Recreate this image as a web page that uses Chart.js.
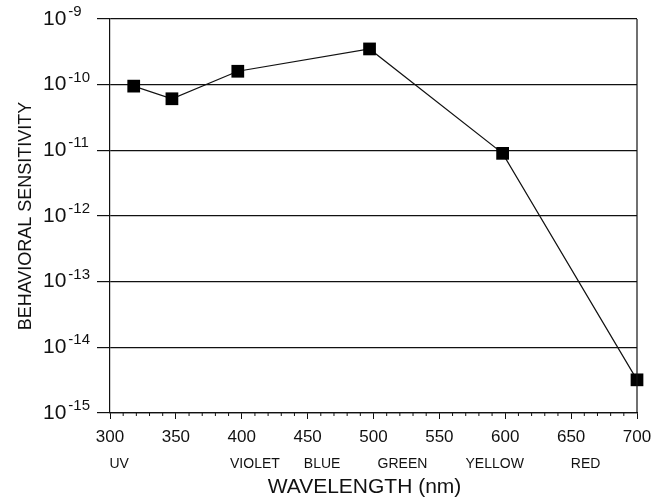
<!DOCTYPE html>
<html>
<head>
<meta charset="utf-8">
<script src="https://cdn.jsdelivr.net/npm/chart.js@4.4.0/dist/chart.umd.min.js"></script>
<style>
  html, body { margin: 0; padding: 0; background: #fff; }
</style>
</head>
<body>
<canvas id="myChart" width="670" height="500"></canvas>
<script>
// data
const wavelengths = [318, 347, 397, 497, 598, 700];
const sensitivity = [9.5e-11, 6.1e-11, 1.6e-10, 3.5e-10, 9e-12, 3.2e-15];
const decadeExponents = [-15, -14, -13, -12, -11, -10, -9];
const bandNames = ['UV', 'VIOLET', 'BLUE', 'GREEN', 'YELLOW', 'RED'];
const bandCenters = [307, 410, 461, 522, 592, 661];

const FONT = "'Liberation Sans', Arial, Helvetica, sans-serif";
const INK = '#111';

const extras = {
  id: 'extras',
  afterDraw(chart) {
    const { ctx, chartArea: area, scales: { x, y } } = chart;
    ctx.save();
    ctx.strokeStyle = INK;
    ctx.lineWidth = 1.2;

    // right frame
    ctx.beginPath();
    ctx.moveTo(area.right, area.top);
    ctx.lineTo(area.right, area.bottom);
    ctx.stroke();

    // minor ticks on x
    ctx.lineWidth = 1;
    for (let v = 310; v < 700; v += 10) {
      if (v % 50 === 0) continue;
      const px = x.getPixelForValue(v);
      ctx.beginPath();
      ctx.moveTo(px, area.bottom);
      ctx.lineTo(px, area.bottom + 3);
      ctx.stroke();
    }

    // y labels as 10 with raised exponent
    ctx.fillStyle = INK;
    ctx.textAlign = 'left';
    ctx.textBaseline = 'middle';
    decadeExponents.forEach(e => {
      const py = y.getPixelForValue(Math.pow(10, e));
      ctx.font = '21px ' + FONT;
      ctx.fillText('10', 43, py);
      const w = ctx.measureText('10').width;
      ctx.font = '15px ' + FONT;
      ctx.fillText('-' + Math.abs(e), 43 + w + 2, py - 7);
    });

    // colour band names under the wavelengths
    ctx.font = '14px ' + FONT;
    ctx.textAlign = 'center';
    bandNames.forEach((name, i) => {
      ctx.fillText(name, x.getPixelForValue(bandCenters[i]), 464);
    });

    // x title
    ctx.font = '21px ' + FONT;
    ctx.fillText('WAVELENGTH (nm)', (area.left + area.right) / 2 - 9, 487);
    ctx.restore();
  }
};

new Chart(document.getElementById('myChart'), {
  type: 'line',
  data: {
    datasets: [{
      data: wavelengths.map((w, i) => ({ x: w, y: sensitivity[i] })),
      borderColor: INK,
      borderWidth: 1.2,
      pointStyle: 'rect',
      pointRadius: 9,
      pointBackgroundColor: '#000',
      pointBorderColor: '#000',
      pointBorderWidth: 0,
      tension: 0,
      clip: false
    }]
  },
  options: {
    responsive: false,
    animation: false,
    layout: { padding: { left: 0, top: 19, right: 33, bottom: 0 } },
    plugins: { legend: { display: false }, tooltip: { enabled: false } },
    scales: {
      x: {
        type: 'linear',
        min: 300,
        max: 700,
        afterFit: s => { s.height = 87; },
        ticks: {
          stepSize: 10,
          autoSkip: false,
          maxRotation: 0,
          padding: 8,
          color: INK,
          font: { family: FONT, size: 17 },
          callback: v => (v % 50 === 0 ? v : '')
        },
        grid: {
          drawOnChartArea: false,
          tickLength: 6,
          color: c => (c.tick && c.tick.value % 50 === 0 ? INK : 'rgba(0,0,0,0)')
        },
        border: { display: true, color: INK, width: 1.2 }
      },
      y: {
        type: 'logarithmic',
        min: 1e-15,
        max: 1e-9,
        afterFit: s => { s.width = 110; },
        afterBuildTicks: s => {
          s.ticks = decadeExponents.map(e => ({ value: Math.pow(10, e) }));
        },
        ticks: { display: false },
        grid: { color: INK, lineWidth: 1.2, tickLength: 13 },
        border: { display: true, color: INK, width: 1.2 },
        title: {
          display: true,
          text: 'BEHAVIORAL SENSITIVITY',
          color: INK,
          font: { family: FONT, size: 18 },
          padding: { top: 15, bottom: 0 }
        }
      }
    }
  },
  plugins: [extras]
});
</script>
</body>
</html>
